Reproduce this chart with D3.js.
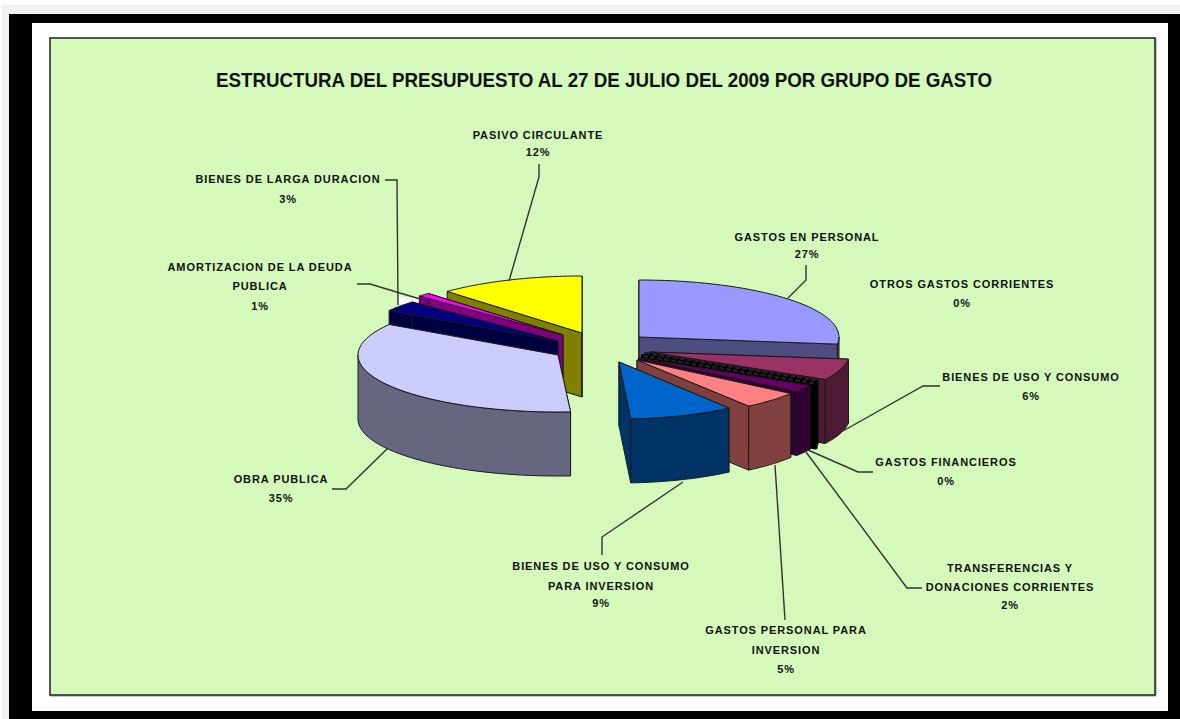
<!DOCTYPE html>
<html>
<head>
<meta charset="utf-8">
<script src="https://cdnjs.cloudflare.com/ajax/libs/d3/7.8.5/d3.min.js"></script>
<style>
html,body{margin:0;padding:0;background:#fff;overflow:hidden}
svg{display:block}
text{font-family:"Liberation Sans",Arial,sans-serif;font-weight:bold;fill:#111}
</style>
</head>
<body>
<svg id="chart" width="1180" height="719"></svg>
<script>
// Budget structure by expense group, clockwise from twelve o'clock
const titleText = "ESTRUCTURA DEL PRESUPUESTO AL 27 DE JULIO DEL 2009 POR GRUPO DE GASTO";
const categories = [
  "GASTOS EN PERSONAL", "BIENES DE USO Y CONSUMO", "OTROS GASTOS CORRIENTES",
  "GASTOS FINANCIEROS", "TRANSFERENCIAS Y DONACIONES CORRIENTES",
  "GASTOS PERSONAL PARA INVERSION", "BIENES DE USO Y CONSUMO PARA INVERSION",
  "OBRA PUBLICA", "BIENES DE LARGA DURACION", "AMORTIZACION DE LA DEUDA PUBLICA",
  "PASIVO CIRCULANTE"
];
const percents = [27, 6, 0, 0, 2, 5, 9, 35, 3, 1, 12];
const labelLines = [
  ["GASTOS EN PERSONAL"], ["BIENES DE USO Y CONSUMO"], ["OTROS GASTOS CORRIENTES"],
  ["GASTOS FINANCIEROS"], ["TRANSFERENCIAS Y", "DONACIONES CORRIENTES"],
  ["GASTOS PERSONAL PARA", "INVERSION"], ["BIENES DE USO Y CONSUMO", "PARA INVERSION"],
  ["OBRA PUBLICA"], ["BIENES DE LARGA DURACION"], ["AMORTIZACION DE LA DEUDA", "PUBLICA"],
  ["PASIVO CIRCULANTE"]
];
const topColors = ["#9999ff","#993366","#ffffcc","#ccffff","#660066","#ff8080","#0066cc","#ccccff","#000080","#ff00ff","#ffff00"];

// Layout of the exploded pie: shared centre, per-slice displacement and horizontal radius
const center = {x: 610, y: 350}, ry = 57, depth = 64;
const explode = [[29,-13],[40,2],[35,3],[33,6],[29,8],[27,10],[9,12],[-52,5],[-52,-9],[-47,-15],[-28,-17]];
const radiusX = [200,200,197,197,195,190,187,200,200,197,197];
const paintOrder = [10,9,8,7,0,1,2,3,4,5,6];
const labelPlace = [
  {x:807,y:[237,254]},{x:1031,y:[377,396]},{x:962,y:[284,303]},{x:946,y:[462,481]},
  {x:1010,y:[568,587,605]},{x:786,y:[630,650,669]},{x:601,y:[566,586,603]},
  {x:281,y:[479,498]},{x:288,y:[179,199]},{x:260,y:[267,286,306]},{x:538,y:[135,152]}
];
const leaders = [
  [[806,265],[806,280],[788,298]],
  [[940,386],[923,386],[843,431]],
  null,
  [[873,472],[858,472],[808,450]],
  [[922,588],[907,588],[806,452]],
  [[785,620],[775,465]],
  [[602,555],[602,537],[683,482]],
  [[332,489],[346,489],[388,448]],
  [[385,180],[397,180],[398,305]],
  [[357,284],[370,284],[420,299]],
  [[539,164],[539,177],[509,281]]
];

const svg = d3.select("#chart");
const frame = svg.append("g");
frame.append("rect").attr("x",1).attr("y",5).attr("width",1179).attr("height",714).attr("fill","#f2f2f2");
frame.append("rect").attr("x",9).attr("y",14).attr("width",1171).attr("height",705).attr("fill","#000");
frame.append("rect").attr("x",32).attr("y",23).attr("width",1136).attr("height",688).attr("fill","#fff");
frame.append("rect").attr("x",51).attr("y",39).attr("width",1105).attr("height",657)
  .attr("fill","#d5f8bb").attr("stroke","#8a8f88").attr("stroke-width",1);
frame.append("rect").attr("x",50).attr("y",38).attr("width",1105).attr("height",657)
  .attr("fill","#d4f9bb").attr("stroke","#2c2c2c").attr("stroke-width",1.6);

svg.append("text").attr("x",604).attr("y",87).attr("text-anchor","middle")
  .attr("font-size",21).attr("textLength",776).attr("lengthAdjust","spacingAndGlyphs").text(titleText);

const pie = d3.pie().sort(null).value(d => d);
const arcs = pie(percents);
const line = d3.line();
const closed = d3.line().curve(d3.curveLinearClosed);

// Small pale gap behind the back edge of the long-lived assets slice
svg.append("rect").attr("x",399).attr("y",297).attr("width",19).attr("height",7).attr("fill","#fff");

// Position of a rim point of one slice at a given angle
const rimPoint = (apex, rx, a) => [apex[0] + rx * Math.sin(a), apex[1] - ry * Math.cos(a)];
const sweep = (a0, a1) => d3.range(0, 41).map(i => d3.interpolateNumber(a0, a1)(i / 40));

const darker = c => { const k = d3.rgb(c); return d3.rgb(k.r/2, k.g/2, k.b/2).formatHex(); };

const pieG = svg.append("g").attr("stroke","#1a1a1a").attr("stroke-width",1).attr("stroke-linejoin","round");
paintOrder.forEach(i => {
  const d = arcs[i];
  const rx = radiusX[i];
  const apex = [center.x + explode[i][0], center.y + explode[i][1]];
  const side = darker(topColors[i]);
  const flat = d.endAngle - d.startAngle < 1e-6;
  const g = pieG.append("g");
  if (flat) {
    // A zero-share slice collapses to a dark wedge edge
    const p = rimPoint(apex, rx, d.startAngle);
    g.append("path").attr("d", closed([apex, p, [p[0], p[1]+depth], [apex[0], apex[1]+depth]]))
      .attr("fill","#000").attr("stroke","#000").attr("stroke-width",i === 3 ? 4 : 1.5);
    g.append("path").attr("d", line([apex, p])).attr("stroke","#222").attr("stroke-width",2.5).attr("stroke-dasharray","5 2");
    return;
  }
  const radial = a => {
    const p = rimPoint(apex, rx, a);
    return closed([apex, p, [p[0], p[1]+depth], [apex[0], apex[1]+depth]]);
  };
  g.append("path").attr("d", radial(d.startAngle)).attr("fill", side);
  g.append("path").attr("d", radial(d.endAngle)).attr("fill", side);
  const wallFrom = Math.max(d.startAngle, Math.PI / 2), wallTo = Math.min(d.endAngle, 1.5 * Math.PI);
  if (wallTo > wallFrom) {
    const upper = sweep(wallFrom, wallTo).map(a => rimPoint(apex, rx, a));
    const lower = upper.slice().reverse().map(p => [p[0], p[1] + depth]);
    g.append("path").attr("d", closed(upper.concat(lower))).attr("fill", side);
  }
  const top = [apex].concat(sweep(d.startAngle, d.endAngle).map(a => rimPoint(apex, rx, a)));
  g.append("path").attr("d", closed(top)).attr("fill", topColors[i]);
});

// Leader lines from each slice to its caption
svg.append("g").selectAll("path").data(leaders.filter(Boolean)).join("path")
  .attr("d", line).attr("fill","none").attr("stroke","#333").attr("stroke-width",1.4);

// Captions: category lines plus the share underneath
categories.forEach((name, i) => {
  const lines = labelLines[i].concat(percents[i] + "%");
  const t = svg.append("g").attr("data-category", name);
  lines.forEach((s, j) => {
    t.append("text").attr("x", labelPlace[i].x).attr("y", labelPlace[i].y[j] + 3.5)
      .attr("text-anchor","middle").attr("font-size",11).attr("letter-spacing",0.9).text(s);
  });
});
</script>
</body>
</html>
